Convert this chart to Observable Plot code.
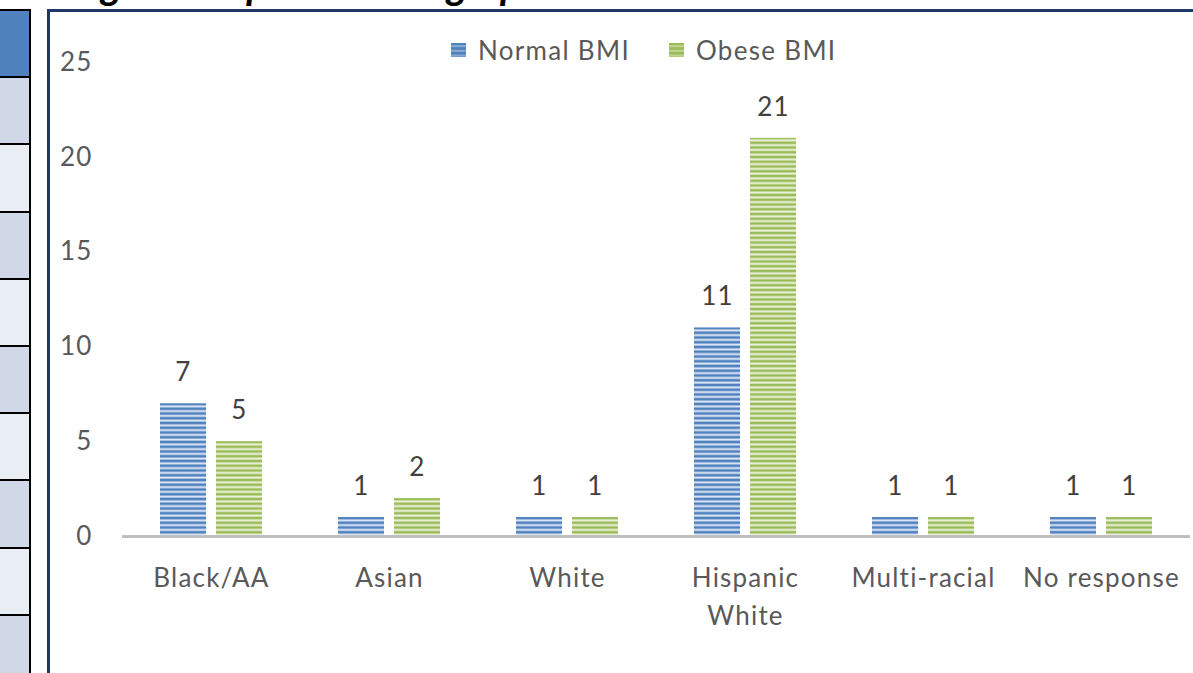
<!DOCTYPE html>
<html>
<head>
<meta charset="utf-8">
<script src="https://cdn.jsdelivr.net/npm/d3@7"></script>
<script src="https://cdn.jsdelivr.net/npm/@observablehq/plot@0.6"></script>
<style>
  html, body { margin: 0; padding: 0; background: #ffffff; overflow: hidden; width: 1193px; height: 673px; }
  #page { position: relative; width: 1193px; height: 673px; overflow: hidden; }
  #title { position: absolute; left: 36px; top: -40.5px; font-family: Lato, sans-serif; font-weight: bold; font-style: italic; font-size: 40px; line-height: normal; color: #000; white-space: nowrap; letter-spacing: -0.3px; }
  #table { position: absolute; left: 0; top: 9px; width: 29px; border-right: 2.5px solid #000; }
  #table div { border-top: 2px solid #000; box-sizing: border-box; }
  #chart { position: absolute; left: 47px; top: 9px; width: 1300px; height: 800px; border: 3px solid #1f3864; background: #fff; }
  #chart svg { position: absolute; left: 0; top: 0; }
  #legend { position: absolute; left: 401px; top: 22px; font-family: Lato, sans-serif; font-size: 26px; letter-spacing: 1.3px; color: #595959; display: flex; align-items: center; white-space: nowrap; }
  #legend .item { display: flex; align-items: center; margin-right: 39px; }
  #legend svg { position: static; margin-right: 12px; }
</style>
</head>
<body>
<div id="page">
  <div id="title">Weight Group and Demographics</div>
  <div id="table"></div>
  <div id="chart"><div id="legend"></div></div>
</div>
<script>
// ---- data ----
const categories = ["Black/AA", "Asian", "White", "Hispanic White", "Multi-racial", "No response"];
const seriesNames = ["Normal BMI", "Obese BMI"];
const normalBMI = [7, 1, 1, 11, 1, 1];
const obeseBMI = [5, 2, 1, 21, 1, 1];
const yTicks = [0, 5, 10, 15, 20, 25];
const seriesColors = { "Normal BMI": ["#4f81bd", "#e4ecf7", "#86a8d6"], "Obese BMI": ["#9bbb59", "#eef4e2", "#bed38e"] };
const patternIds = { "Normal BMI": "pat-normal", "Obese BMI": "pat-obese" };

// ---- side table fragment (decoration) ----
const tableRows = ["#4f81bd", "#d0d8e8", "#e9edf4", "#d0d8e8", "#e9edf4", "#d0d8e8", "#e9edf4", "#d0d8e8", "#e9edf4", "#d0d8e8"];
const tbl = document.getElementById("table");
tableRows.forEach((c) => {
  const r = document.createElement("div");
  r.style.height = "67.2px";
  r.style.background = c;
  tbl.appendChild(r);
});

const rows = categories.flatMap((c, i) => [
  { category: c, series: seriesNames[0], value: normalBMI[i] },
  { category: c, series: seriesNames[1], value: obeseBMI[i] }
]);

const W = 1143, H = 661;
const font = "Lato, sans-serif";

const chart = Plot.plot({
  width: W,
  height: H,
  marginLeft: 72,
  marginRight: 3,
  marginTop: 50,
  marginBottom: 137,
  style: { fontFamily: font, fontSize: "26px", background: "transparent", color: "#595959", overflow: "visible", letterSpacing: "1.2px" },
  fx: { domain: categories, padding: 0, label: null, axis: null },
  x: { domain: seriesNames, paddingInner: 10 / 56, paddingOuter: 0.66, axis: null },
  y: { domain: [0, 25], label: null, axis: null },
  marks: [
    Plot.axisY({ ticks: yTicks, tickSize: 0, tickPadding: 30, label: null, fill: "#595959", fontSize: 26 }),
    Plot.axisFx({ anchor: "bottom", tickSize: 0, tickPadding: 24, label: null, fill: "#595959", fontSize: 26, lineHeight: 1.45,
      tickFormat: (d) => d === "Hispanic White" ? "Hispanic\nWhite" : d }),
    ...seriesNames.map((s) => Plot.barY(rows.filter((d) => d.series === s), {
      fx: "category", x: "series", y: "value", fill: `url(#${patternIds[s]})`
    })),
    Plot.ruleY([0], { stroke: "#bfbfbf", strokeWidth: 3 }),
    Plot.text(rows, { fx: "category", x: "series", y: "value", text: (d) => String(d.value), dy: -31, fill: "#404040", fontSize: 26 })
  ]
});

// patterns
const y0 = chart.scale("y").apply(0);
const ns = "http://www.w3.org/2000/svg";
function makeDefs(target, originY) {
  const defs = document.createElementNS(ns, "defs");
  seriesNames.forEach((s) => {
    const [dark, light, mid] = seriesColors[s];
    const gid = patternIds[s] + "-g";
    const grad = document.createElementNS(ns, "linearGradient");
    grad.setAttribute("id", gid);
    grad.setAttribute("x1", "0"); grad.setAttribute("y1", "0");
    grad.setAttribute("x2", "0"); grad.setAttribute("y2", "1");
    [[0, mid], [0.5, light], [1, mid]].forEach(([o, c]) => {
      const st = document.createElementNS(ns, "stop");
      st.setAttribute("offset", o); st.setAttribute("stop-color", c);
      grad.appendChild(st);
    });
    defs.appendChild(grad);
    const p = document.createElementNS(ns, "pattern");
    p.setAttribute("id", patternIds[s]);
    p.setAttribute("patternUnits", "userSpaceOnUse");
    p.setAttribute("x", "0");
    p.setAttribute("y", String(originY));
    p.setAttribute("width", "20");
    p.setAttribute("height", "4.75");
    const r1 = document.createElementNS(ns, "rect");
    r1.setAttribute("width", "20"); r1.setAttribute("height", "4.75"); r1.setAttribute("fill", dark);
    const r2 = document.createElementNS(ns, "rect");
    r2.setAttribute("y", "2.0"); r2.setAttribute("width", "20"); r2.setAttribute("height", "2.75"); r2.setAttribute("fill", `url(#${gid})`);
    p.appendChild(r1); p.appendChild(r2);
    defs.appendChild(p);
  });
  target.insertBefore(defs, target.firstChild);
}
makeDefs(chart, y0);
document.getElementById("chart").appendChild(chart);

// legend
const legend = document.getElementById("legend");
seriesNames.forEach((s, i) => {
  const item = document.createElement("div");
  item.className = "item";
  const sw = document.createElementNS(ns, "svg");
  sw.setAttribute("width", "15"); sw.setAttribute("height", "14");
  const rr = document.createElementNS(ns, "rect");
  rr.setAttribute("width", "15"); rr.setAttribute("height", "14");
  rr.setAttribute("fill", seriesColors[s][0]);
  sw.appendChild(rr);
  for (let k = 0; k < 3; k++) {
    const st = document.createElementNS(ns, "rect");
    st.setAttribute("y", String(2 + k * 4.75)); st.setAttribute("width", "15"); st.setAttribute("height", "2.2");
    st.setAttribute("fill", seriesColors[s][2]);
    sw.appendChild(st);
  }
  item.appendChild(sw);
  const t = document.createElement("span");
  t.textContent = s;
  item.appendChild(t);
  legend.appendChild(item);
});
</script>
</body>
</html>
